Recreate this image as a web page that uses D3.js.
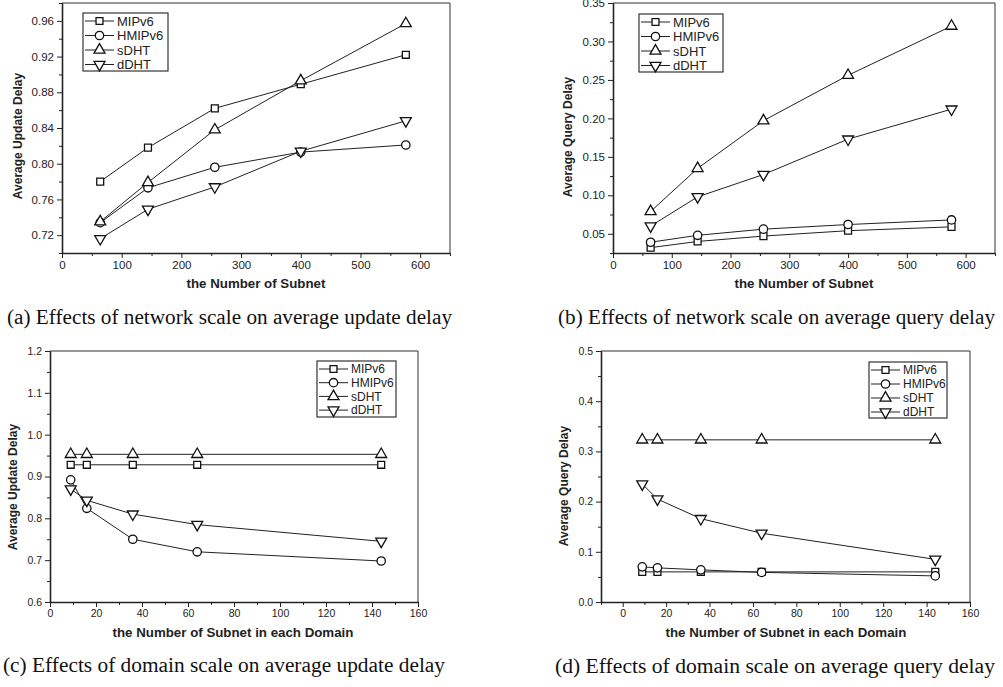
<!DOCTYPE html>
<html>
<head>
<meta charset="utf-8">
<title></title>
<style>
  body { margin: 0; background: #fff; }
  svg { display: block; }
  .tick text { font-family: "Liberation Sans", Arial, sans-serif; fill: #222; }
  .axis path, .axis line { stroke: #222; }
  .caption { font-family: "Liberation Serif", "Times New Roman", serif; font-size: 20px; fill: #111; }
  .atitle { font-family: "Liberation Sans", Arial, sans-serif; font-weight: bold; fill: #222; }
  .legend text { font-family: "Liberation Sans", Arial, sans-serif; fill: #222; }
</style>
<script src="https://cdnjs.cloudflare.com/ajax/libs/d3/7.8.5/d3.min.js"></script>
</head>
<body>
<script>
// series names
const seriesNames = ["MIPv6", "HMIPv6", "sDHT", "dDHT"]

// (a) / (b): number of subnets
const subnets = [64, 144, 256, 400, 576]
const updateA = {
  MIPv6:  [0.780, 0.818, 0.862, 0.889, 0.922],
  HMIPv6: [0.734, 0.773, 0.796, 0.813, 0.821],
  sDHT:   [0.735, 0.779, 0.838, 0.893, 0.957],
  dDHT:   [0.716, 0.749, 0.774, 0.814, 0.848]
}
const queryB = {
  MIPv6:  [0.032, 0.040, 0.047, 0.054, 0.059],
  HMIPv6: [0.039, 0.048, 0.056, 0.062, 0.068],
  sDHT:   [0.079, 0.135, 0.197, 0.256, 0.320],
  dDHT:   [0.060, 0.098, 0.127, 0.173, 0.212]
}

// (c) / (d): subnets in each domain
const domainSubnets = [9, 16, 36, 64, 144]
const updateC = {
  MIPv6:  [0.928, 0.928, 0.928, 0.928, 0.928],
  HMIPv6: [0.892, 0.824, 0.750, 0.720, 0.698],
  sDHT:   [0.953, 0.953, 0.953, 0.953, 0.953],
  dDHT:   [0.870, 0.843, 0.810, 0.785, 0.745]
}
const queryD = {
  MIPv6:  [0.060, 0.060, 0.060, 0.060, 0.060],
  HMIPv6: [0.070, 0.068, 0.064, 0.059, 0.052],
  sDHT:   [0.323, 0.323, 0.323, 0.323, 0.323],
  dDHT:   [0.235, 0.205, 0.166, 0.137, 0.085]
}

// tick labels
const xTicksAB = [0, 100, 200, 300, 400, 500, 600]
const xTicksCD = [0, 20, 40, 60, 80, 100, 120, 140, 160]
const yTicksA = [0.72, 0.76, 0.80, 0.84, 0.88, 0.92, 0.96]
const yTicksB = [0.05, 0.10, 0.15, 0.20, 0.25, 0.30, 0.35]
const yTicksC = [0.6, 0.7, 0.8, 0.9, 1.0, 1.1, 1.2]
const yTicksD = [0.0, 0.1, 0.2, 0.3, 0.4, 0.5]

const captions = [
  "(a)  Effects of network scale on average update delay",
  "(b)  Effects of network scale on average query delay",
  "(c)  Effects of domain scale on average update delay",
  "(d)  Effects of domain scale on average query delay"
]

var svg = d3.select("body").append("svg")
            .attr("width", 1003)
            .attr("height", 687)

var symbols = {
  MIPv6:  { type: d3.symbolSquare,   size: 48, rot: 0 },
  HMIPv6: { type: d3.symbolCircle,   size: 55, rot: 0 },
  sDHT:   { type: d3.symbolTriangle, size: 52, rot: 0 },
  dDHT:   { type: d3.symbolTriangle, size: 52, rot: 180 }
}

function marker(g, name, x, y){
  var s = symbols[name]
  g.append("path")
   .attr("d", d3.symbol().type(s.type).size(s.size)())
   .attr("transform", `translate(${x},${y}) rotate(${s.rot})`)
   .attr("fill", "#fff")
   .attr("stroke", "#111")
   .attr("stroke-width", 1.3)
}

function panel(p){
  var x = d3.scaleLinear().domain(p.xDomain).range([p.left, p.right])
  var y = d3.scaleLinear().domain(p.yDomain).range([p.bottom, p.top])
  var g = svg.append("g")

  // frame (top / right)
  g.append("path")
   .attr("d", `M${p.left},${p.top}H${p.right}V${p.bottom}`)
   .attr("fill", "none").attr("stroke", "#333").attr("stroke-width", 1)

  // minor ticks
  var xs = p.xTicks[1] - p.xTicks[0], ys = p.yTicks[1] - p.yTicks[0]
  var xMinor = d3.range(p.xTicks[0] - xs / 2, p.xDomain[1], xs).filter(v => v > p.xDomain[0])
  var yMinor = d3.range(p.yTicks[0] - ys / 2, p.yDomain[1], ys).filter(v => v > p.yDomain[0] + 1e-9)

  g.append("g").attr("class", "axis")
   .attr("transform", `translate(0,${p.bottom})`)
   .call(d3.axisBottom(x).tickValues(xMinor).tickSize(3).tickFormat(""))
  g.append("g").attr("class", "axis")
   .attr("transform", `translate(${p.left},0)`)
   .call(d3.axisLeft(y).tickValues(yMinor).tickSize(3).tickFormat(""))

  // major axes
  var xa = g.append("g").attr("class", "axis")
   .attr("transform", `translate(0,${p.bottom})`)
   .call(d3.axisBottom(x).tickValues(p.xTicks).tickSize(5).tickSizeOuter(0).tickPadding(3))
  var ya = g.append("g").attr("class", "axis")
   .attr("transform", `translate(${p.left},0)`)
   .call(d3.axisLeft(y).tickValues(p.yTicks).tickSize(5).tickSizeOuter(0).tickPadding(3)
          .tickFormat(d3.format(p.yFormat)))
  xa.select(".domain").attr("stroke-width", 1.6)
  ya.select(".domain").attr("stroke-width", 1.6)
  g.selectAll(".tick text").attr("font-size", p.tickFont)

  // axis titles
  g.append("text").attr("class", "atitle").attr("font-size", 13.3)
   .attr("x", p.xTitle[0]).attr("y", p.xTitle[1])
   .attr("text-anchor", "middle").text(p.xLabel)
  g.append("text").attr("class", "atitle").attr("font-size", 12)
   .attr("transform", `translate(${p.yTitle[0]},${p.yTitle[1]}) rotate(-90)`)
   .attr("text-anchor", "middle").text(p.yLabel)

  // lines and markers
  var line = d3.line().x(d => x(d[0])).y(d => y(d[1]))
  seriesNames.forEach(function(name){
    var pts = p.xs.map((v, i) => [v, p.data[name][i]])
    g.append("path").attr("d", line(pts))
     .attr("fill", "none").attr("stroke", "#222").attr("stroke-width", 1)
  })
  seriesNames.forEach(function(name){
    p.xs.forEach((v, i) => marker(g, name, x(v), y(p.data[name][i])))
  })

  // legend
  var lg = g.append("g").attr("class", "legend")
  var L = p.legend
  lg.append("rect")
    .attr("x", L.x).attr("y", L.y).attr("width", L.w).attr("height", L.h)
    .attr("fill", "#fff").attr("stroke", "#222").attr("stroke-width", 1.1)
  seriesNames.forEach(function(name, i){
    var cy = L.y + 8 + i * L.step
    lg.append("line")
      .attr("x1", L.x + 2).attr("x2", L.x + 31).attr("y1", cy).attr("y2", cy)
      .attr("stroke", "#222").attr("stroke-width", 1)
    marker(lg, name, L.x + 16.5, cy)
    lg.append("text").attr("x", L.x + 34).attr("y", cy).attr("dy", "0.36em")
      .attr("font-size", L.font).text(name)
  })

  // caption
  svg.append("text").attr("class", "caption")
     .attr("x", p.caption[0]).attr("y", p.caption[1])
     .attr("textLength", p.caption[2]).attr("lengthAdjust", "spacingAndGlyphs")
     .text(p.captionText)
}

panel({
  xs: subnets, data: updateA,
  xDomain: [0, 650], yDomain: [0.70, 0.98],
  left: 62, right: 450, top: 3, bottom: 253,
  xTicks: xTicksAB, yTicks: yTicksA, yFormat: ".2f", tickFont: 11.5,
  xLabel: "the Number of Subnet", yLabel: "Average Update Delay",
  xTitle: [256, 288], yTitle: [22, 136],
  legend: { x: 83, y: 13, w: 85, h: 58, step: 14.5, font: 13 },
  caption: [7, 324, 445], captionText: captions[0]
})
panel({
  xs: subnets, data: queryB,
  xDomain: [0, 650], yDomain: [0.025, 0.35],
  left: 613, right: 995, top: 3, bottom: 253,
  xTicks: xTicksAB, yTicks: yTicksB, yFormat: ".2f", tickFont: 11.5,
  xLabel: "the Number of Subnet", yLabel: "Average Query Delay",
  xTitle: [804, 288], yTitle: [572, 137],
  legend: { x: 639, y: 14, w: 84, h: 58, step: 14.5, font: 13 },
  caption: [558, 324, 437], captionText: captions[1]
})
panel({
  xs: domainSubnets, data: updateC,
  xDomain: [0, 160], yDomain: [0.6, 1.2],
  left: 50, right: 418, top: 351, bottom: 602,
  xTicks: xTicksCD, yTicks: yTicksC, yFormat: ".1f", tickFont: 10.5,
  xLabel: "the Number of Subnet in each Domain", yLabel: "Average Update Delay",
  xTitle: [233, 637], yTitle: [17, 487],
  legend: { x: 317, y: 361, w: 79, h: 56, step: 13.7, font: 12 },
  caption: [3, 672, 442], captionText: captions[2]
})
panel({
  xs: domainSubnets, data: queryD,
  xDomain: [-10, 160], yDomain: [0, 0.5],
  left: 601, right: 970, top: 351, bottom: 602,
  xTicks: xTicksCD, yTicks: yTicksD, yFormat: ".1f", tickFont: 10.5,
  xLabel: "the Number of Subnet in each Domain", yLabel: "Average Query Delay",
  xTitle: [786, 637], yTitle: [568, 486],
  legend: { x: 869, y: 362, w: 78, h: 56, step: 14, font: 12 },
  caption: [555, 673, 440], captionText: captions[3]
})
</script>
</body>
</html>
